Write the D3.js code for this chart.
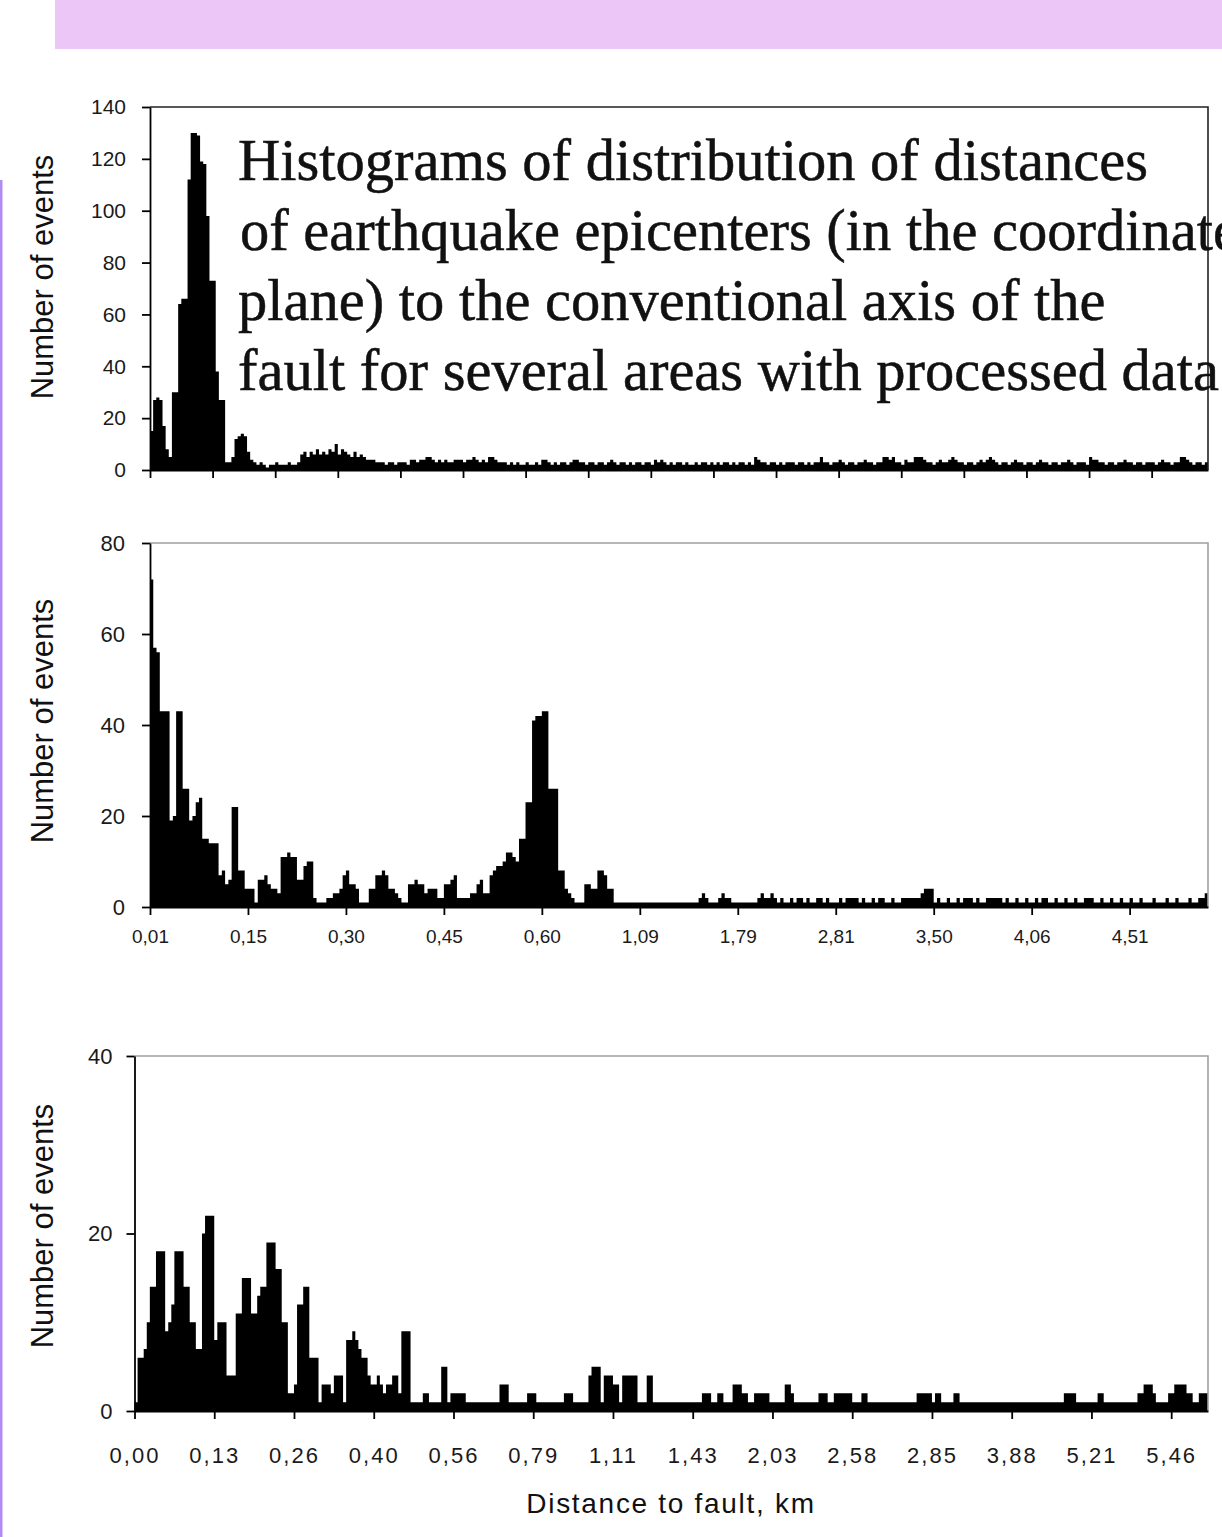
<!DOCTYPE html>
<html>
<head>
<meta charset="utf-8">
<script src="https://cdn.jsdelivr.net/npm/d3@7"></script>
<style>
  body { margin: 0; background: #fff; overflow: hidden; }
  .tick text { font-family: "Liberation Sans", Arial, sans-serif; fill: #1a1a1a; }
  .domain, .tick line { stroke: #000; }
</style>
</head>
<body>
<div id="chart"></div>
<script>
// ---- data: event counts per distance bin ----
var topValues = [
  15,27,28,27,17,8,5,30,30,64,
  66,66,112,130,130,129,119,118,98,73,
  73,38,27,27,3,3,5,12,13,14,
  13,7,4,
  3,2,3,2,1,2,2,3,2,2,2,3,2,2,3,
  6,7,5,7,6,8,6,7,6,8,7,10,6,8,7,6,5,7,5,
  6,5,4,4,4,3,
  3,3,2,3,3,2,3,3,3,2,
  4,4,3,4,4,5,
  5,4,3,4,3,4,3,3,4,4,
  4,3,4,4,5,4,
  3,4,3,
  5,5,4,
  3,3,3,2,3,2,3,2,
  2,3,2,2,3,2,
  4,4,3,
  2,3,2,3,3,2,3,
  4,4,3,
  3,2,3,3,2,3,3,2,3,4,3,2,3,3,2,3,2,3,3,2,3,3,2,
  4,3,4,
  3,2,3,2,3,3,2,3,2,2,3,2,3,3,2,3,2,3,2,3,3,2,3,2,3,3,2,3,2,
  5,4,3,
  3,2,3,3,2,3,2,3,3,
  3,2,3,3,2,3,2,3,3,
  5,
  3,3,2,3,3,4,3,2,3,3,2,3,3,4,3,3,2,3,3,
  5,5,4,5,
  3,3,2,4,3,3,
  5,5,5,4,
  3,3,2,3,4,3,3,
  4,5,4,
  3,3,2,3,3,2,3,4,3,
  4,5,4,
  3,2,3,3,2,3,
  4,
  3,3,2,3,3,2,3,4,3,3,2,3,3,2,3,3,4,3,2,3,3,3,2,
  5,4,4,
  3,3,2,3,3,2,3,3,4,3,3,2,3,3,2,3,3,3,2,3,4,3,3,2,3,3,
  5,5,
  4,3,2,3,3,2,3
];

var midValues = [
  72,57,56,43,43,43,19,20,43,43,
  26,26,19,20,23,24,15,15,14,14,
  14,7,8,5,6,22,22,8,8,4,
  4,4,1,6,6,7,5,4,4,3,
  11,11,12,11,11,6,6,9,10,10,
  2,1,1,1,2,2,3,3,4,7,
  8,5,5,4,1,1,1,4,4,7,
  7,8,7,4,4,3,2,1,1,5,
  5,6,5,5,3,4,4,4,2,2,
  5,5,6,7,2,2,2,2,3,3,
  5,6,3,3,7,8,9,9,10,12,
  12,11,10,15,15,23,23,41,42,42,
  43,43,26,26,26,8,8,4,3,2,
  1,1,1,5,5,4,4,8,8,7,
  4,4,1,1,1,1,1,1,1,1,
  1,1,1,1,1,1,1,1,1,1,
  1,1,1,1,1,1,1,1,2,3,
  2,1,1,1,2,3,2,2,1,1,
  1,1,1,1,1,1,2,3,2,2,
  3,2,1,2,1,1,2,1,2,2,
  1,2,1,1,2,2,1,2,1,1,
  1,2,1,2,2,2,2,1,2,1,
  1,2,1,2,2,1,1,2,1,1,
  2,2,2,2,2,2,3,4,4,4,
  1,2,1,1,2,1,1,2,1,2,
  2,2,1,2,1,1,2,2,2,2,
  2,1,2,1,1,2,1,1,2,1,
  1,2,1,2,2,1,1,2,1,1,
  2,1,1,2,1,1,2,2,2,1,
  1,2,1,1,2,1,1,2,1,1,
  2,1,1,2,1,1,1,2,1,1,
  1,2,1,1,2,1,1,1,2,1,
  1,2,2,3
];

var botValues = [
  1,6,6,7,10,14,14,18,18,18,
  9,10,12,18,18,18,14,14,10,10,
  7,7,20,22,22,22,8,10,10,10,
  4,4,4,11,11,15,15,15,11,11,
  13,14,14,19,19,19,16,16,10,10,
  2,2,3,12,12,14,14,6,6,6,
  1,3,3,3,2,4,4,4,1,8,
  8,9,8,7,6,6,4,3,3,4,
  3,2,3,3,4,4,2,9,9,9,
  1,1,1,1,2,2,1,1,1,1,
  5,5,1,2,2,2,2,2,1,1,
  1,1,1,1,1,1,1,1,1,3,
  3,3,1,1,1,1,1,1,2,2,
  2,1,1,1,1,1,1,1,1,1,
  2,2,2,1,1,1,1,1,4,5,
  5,5,1,4,4,4,3,3,1,4,
  4,4,4,4,1,1,1,4,4,1,
  1,1,1,1,1,1,1,1,1,1,
  1,1,1,1,1,2,2,2,1,1,
  2,2,1,1,1,3,3,3,2,2,
  1,1,2,2,2,2,2,1,1,1,
  1,1,3,3,2,1,1,1,1,1,
  1,1,1,2,2,2,1,1,2,2,
  2,2,2,2,1,1,1,2,2,1,
  1,1,1,1,1,1,1,1,1,1,
  1,1,1,1,1,2,2,2,2,2,
  1,2,2,1,1,1,1,2,2,1,
  1,1,1,1,1,1,1,1,1,1,
  1,1,1,1,1,1,1,1,1,1,
  1,1,1,1,1,1,1,1,1,1,
  1,1,1,2,2,2,2,1,1,1,
  1,1,1,1,2,2,1,1,1,1,
  1,1,1,1,1,1,1,2,2,3,
  3,3,2,1,1,1,1,2,2,3,
  3,3,3,2,2,1,1,2,2,2
];

var topYTicks = [0, 20, 40, 60, 80, 100, 120, 140];
var midYTicks = [0, 20, 40, 60, 80];
var botYTicks = [0, 20, 40];

var midXLabels = ["0,01","0,15","0,30","0,45","0,60","1,09","1,79","2,81","3,50","4,06","4,51"];
var botXLabels = ["0,00","0,13","0,26","0,40","0,56","0,79","1,11","1,43","2,03","2,58","2,85","3,88","5,21","5,46"];

var titleLines = [
  "Histograms of distribution of distances",
  "of earthquake epicenters (in the coordinate",
  "plane) to the conventional axis of the",
  "fault for several areas with processed data"
];

// ---- page ----
var svg = d3.select("#chart")
  .append("svg")
    .attr("width", 1222)
    .attr("height", 1537);

// lilac header band and left rule
svg.append("rect")
  .attr("x", 55).attr("y", 0)
  .attr("width", 1167).attr("height", 49)
  .attr("fill", "#ecc6f7");
svg.append("rect")
  .attr("x", 0).attr("y", 180)
  .attr("width", 2.5).attr("height", 1357)
  .attr("fill", "#b08cf0");

function drawHist(p) {
  var n = p.values.length;
  var x = d3.scaleLinear().domain([0, n]).range([p.left, p.right]);
  var y = d3.scaleLinear().domain([0, p.yMax]).range([p.bottom, p.top]);

  // bars as one stepped area
  var pts = p.values.map(function(v, i) { return [i, v]; });
  pts.push([n, p.values[n - 1]]);
  var area = d3.area()
    .x(function(d) { return x(d[0]); })
    .y0(y(0))
    .y1(function(d) { return y(d[1]); })
    .curve(d3.curveStepAfter);
  svg.append("path")
    .datum(pts)
    .attr("d", area)
    .attr("fill", "#000");

  // frame: top and right
  svg.append("path")
    .attr("d", "M" + x(0) + "," + y(p.yMax) + "H" + x(n) + "V" + y(0))
    .attr("fill", "none")
    .attr("stroke", p.frame)
    .attr("stroke-width", 1.6);

  // y axis
  var yAxis = svg.append("g")
    .attr("transform", "translate(" + x(0) + ",0)")
    .call(d3.axisLeft(y).tickValues(p.yTicks).tickSize(8).tickSizeOuter(0).tickPadding(p.yPad));
  yAxis.selectAll("text").style("font-size", p.ySize + "px");

  // x axis
  var tv = d3.range(0, n, p.every);
  var xAxis = svg.append("g")
    .attr("transform", "translate(0," + y(0) + ")")
    .call(d3.axisBottom(x).tickValues(tv).tickSize(8).tickSizeOuter(0)
      .tickPadding(p.xPad)
      .tickFormat(function(d, i) { return p.labels ? p.labels[i] : ""; }));
  xAxis.selectAll("text")
    .style("font-size", p.xSize + "px")
    .style("letter-spacing", p.xSpacing + "px");

  svg.selectAll(".domain, .tick line").attr("stroke-width", 1.8);

  // y title
  svg.append("text")
    .attr("transform", "translate(" + p.titleX + "," + p.titleY + ") rotate(-90)")
    .attr("text-anchor", "middle")
    .attr("dy", "0.35em")
    .style("font-family", "'Liberation Sans', Arial, sans-serif")
    .style("font-size", "31px")
    .attr("fill", "#111")
    .text("Number of events");
}

drawHist({ values: topValues, yMax: 140, yTicks: topYTicks,
  left: 150, right: 1208, top: 107, bottom: 470,
  every: 20, labels: null, frame: "#222",
  ySize: 21, yPad: 16, xSize: 20, xPad: 12, xSpacing: 0, titleX: 42, titleY: 277 });

drawHist({ values: midValues, yMax: 80, yTicks: midYTicks,
  left: 150, right: 1208, top: 543, bottom: 907,
  every: 30, labels: midXLabels, frame: "#a0a0a0",
  ySize: 22, yPad: 17, xSize: 19, xPad: 15, xSpacing: 0, titleX: 42, titleY: 721 });

drawHist({ values: botValues, yMax: 40, yTicks: botYTicks,
  left: 134.5, right: 1208, top: 1056, bottom: 1411,
  every: 26, labels: botXLabels, frame: "#a0a0a0",
  ySize: 22, yPad: 14, xSize: 22, xPad: 28, xSpacing: 2, titleX: 42, titleY: 1226 });

// x title of the bottom panel
svg.append("text")
  .attr("x", 671).attr("y", 1513)
  .attr("text-anchor", "middle")
  .style("font-family", "'Liberation Sans', Arial, sans-serif")
  .style("font-size", "28px")
  .style("letter-spacing", "1.7px")
  .attr("fill", "#111")
  .text("Distance to fault, km");

// serif caption inside the top panel (runs past the right edge, as in the source)
svg.append("g").selectAll("text")
  .data(titleLines)
  .enter()
  .append("text")
    .attr("x", function(d, i) { return i === 1 ? 240 : 238; })
    .attr("y", function(d, i) { return 180 + i * 70; })
    .style("font-family", "'Liberation Serif', 'Times New Roman', serif")
    .style("font-size", "58.5px")
    .attr("fill", "#111")
    .attr("stroke", "#111")
    .attr("stroke-width", 0.5)
    .text(function(d) { return d; });
</script>
</body>
</html>
